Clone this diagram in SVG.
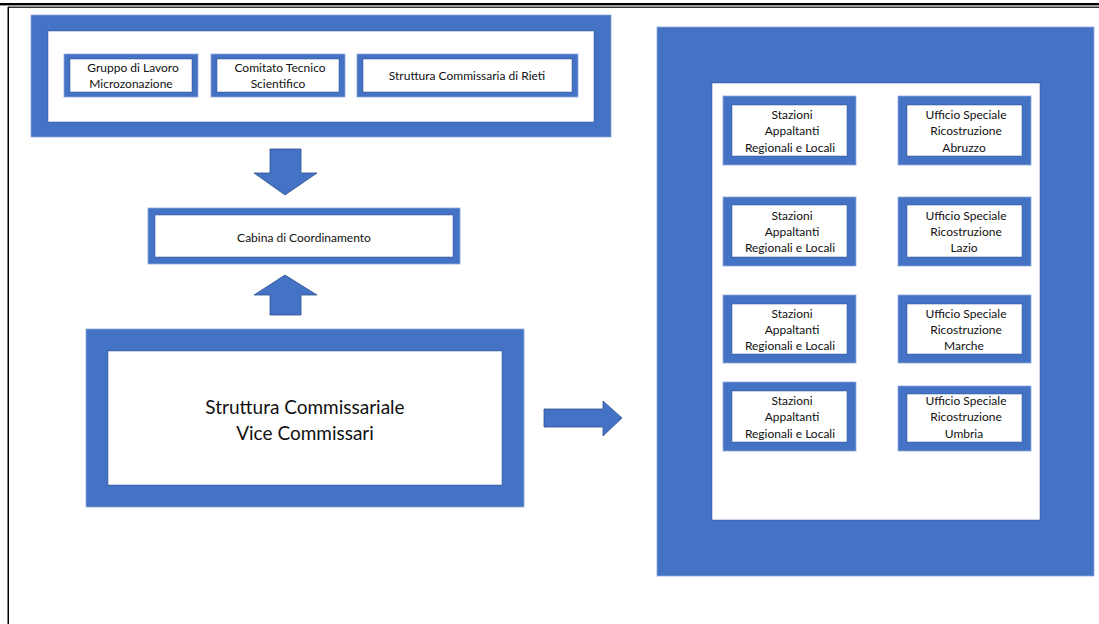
<svg xmlns="http://www.w3.org/2000/svg" width="1099" height="624" viewBox="0 0 1099 624">
<style>
.frame{fill:#4472C4;stroke:#8FAADC;stroke-width:0.8}
.inner{fill:#FFFFFF;stroke:#2F528F;stroke-width:0.5}
.t{font-family:Lato,"Liberation Sans",sans-serif;font-size:12px;fill:#111;text-anchor:middle}
.tb{font-family:Lato,"Liberation Sans",sans-serif;font-size:19px;fill:#111;text-anchor:middle}
.arrow{fill:#4472C4;stroke:#2F528F;stroke-width:0.8}
</style>
<rect width="1099" height="624" fill="#FFFFFF"/>
<g id="page-border">
<rect x="0" y="3" width="1099" height="2.4" fill="#000"/>
<rect x="8" y="6.6" width="1091" height="1.2" fill="#000"/>
<rect x="7.5" y="7" width="1.5" height="617" fill="#000"/>
</g>
<g id="top-group">
<rect class="frame" x="31" y="15" width="580" height="122"/>
<rect class="inner" x="48" y="31" width="546" height="91"/>
</g>
<g id="gruppo">
<rect class="frame" x="64" y="54" width="134" height="43"/>
<rect class="inner" x="70" y="59" width="122" height="33"/>
<text class="t" x="133" y="72">Gruppo di Lavoro</text>
<text class="t" x="131" y="88">Microzonazione</text>
</g>
<g id="comitato">
<rect class="frame" x="211" y="54" width="134" height="43"/>
<rect class="inner" x="217" y="59" width="122" height="33"/>
<text class="t" x="280" y="72">Comitato Tecnico</text>
<text class="t" x="278" y="88">Scientifico</text>
</g>
<g id="struttura-rieti">
<rect class="frame" x="357" y="54" width="221" height="43"/>
<rect class="inner" x="363" y="59" width="209" height="33"/>
<text class="t" x="467" y="80">Struttura Commissaria di Rieti</text>
</g>
<g id="cabina">
<rect class="frame" x="148" y="208" width="312" height="56"/>
<rect class="inner" x="155" y="215" width="298" height="42"/>
<text class="t" x="304" y="242">Cabina di Coordinamento</text>
</g>
<g id="struttura-commissariale">
<rect class="frame" x="86" y="329" width="438" height="178"/>
<rect class="inner" x="108" y="351" width="394" height="134"/>
<text class="tb" x="305" y="414">Struttura Commissariale</text>
<text class="tb" x="305" y="440">Vice Commissari</text>
</g>
<g id="right-group">
<rect class="frame" x="657" y="27" width="437" height="549"/>
<rect class="inner" x="712" y="83" width="328" height="437"/>
</g>
<g id="stazioni-1">
<rect class="frame" x="723" y="96" width="133" height="69"/>
<rect class="inner" x="732" y="105" width="115" height="51"/>
<text class="t" x="792" y="119">Stazioni</text>
<text class="t" x="792" y="135">Appaltanti</text>
<text class="t" x="790" y="152">Regionali e Locali</text>
</g>
<g id="ufficio-abruzzo">
<rect class="frame" x="898" y="96" width="133" height="69"/>
<rect class="inner" x="907" y="105" width="115" height="51"/>
<text class="t" x="966" y="119">Ufficio Speciale</text>
<text class="t" x="966" y="135">Ricostruzione</text>
<text class="t" x="964" y="152">Abruzzo</text>
</g>
<g id="stazioni-2">
<rect class="frame" x="723" y="197" width="133" height="69"/>
<rect class="inner" x="732" y="205" width="115" height="52"/>
<text class="t" x="792" y="220">Stazioni</text>
<text class="t" x="792" y="236">Appaltanti</text>
<text class="t" x="790" y="252">Regionali e Locali</text>
</g>
<g id="ufficio-lazio">
<rect class="frame" x="898" y="197" width="133" height="69"/>
<rect class="inner" x="907" y="205" width="115" height="52"/>
<text class="t" x="966" y="220">Ufficio Speciale</text>
<text class="t" x="966" y="236">Ricostruzione</text>
<text class="t" x="964" y="252">Lazio</text>
</g>
<g id="stazioni-3">
<rect class="frame" x="723" y="295" width="133" height="68"/>
<rect class="inner" x="732" y="304" width="115" height="50"/>
<text class="t" x="792" y="318">Stazioni</text>
<text class="t" x="792" y="334">Appaltanti</text>
<text class="t" x="790" y="350">Regionali e Locali</text>
</g>
<g id="ufficio-marche">
<rect class="frame" x="898" y="295" width="133" height="68"/>
<rect class="inner" x="907" y="304" width="115" height="50"/>
<text class="t" x="966" y="318">Ufficio Speciale</text>
<text class="t" x="966" y="334">Ricostruzione</text>
<text class="t" x="964" y="350">Marche</text>
</g>
<g id="stazioni-4">
<rect class="frame" x="723" y="382" width="133" height="69"/>
<rect class="inner" x="732" y="391" width="115" height="51"/>
<text class="t" x="792" y="405">Stazioni</text>
<text class="t" x="792" y="421">Appaltanti</text>
<text class="t" x="790" y="438">Regionali e Locali</text>
</g>
<g id="ufficio-umbria">
<rect class="frame" x="898" y="386" width="133" height="65"/>
<rect class="inner" x="907" y="394" width="115" height="48"/>
<text class="t" x="966" y="405">Ufficio Speciale</text>
<text class="t" x="966" y="421">Ricostruzione</text>
<text class="t" x="964" y="438">Umbria</text>
</g>
<g id="connectors">
<polygon class="arrow" points="270,149 301,149 301,173 317,173 285,195 254,173 270,173"/>
<polygon class="arrow" points="285,275 317,295 301,295 301,315 270,315 270,295 254,295"/>
<polygon class="arrow" points="544,409 603,409 603,401 622,418 603,436 603,427 544,427"/>
</g>
</svg>
